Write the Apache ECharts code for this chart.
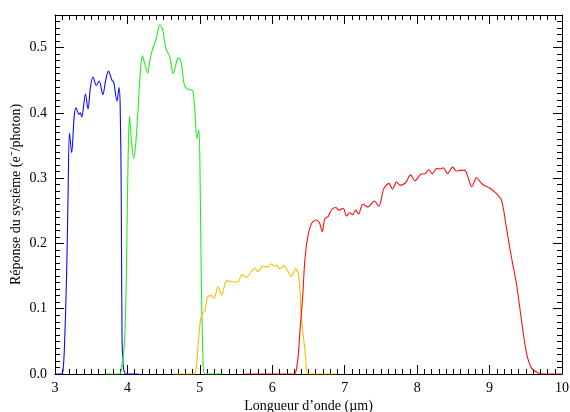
<!DOCTYPE html>
<html>
<head>
<meta charset="utf-8">
<script src="https://cdn.jsdelivr.net/npm/echarts@6/dist/echarts.min.js"></script>
<style>
  html, body { margin: 0; padding: 0; background: #fff; }
  #chart { width: 570px; height: 412px; }
</style>
</head>
<body>
<div id="chart"></div>
<script>
// Spectral response of the four bands: wavelength (µm) and response (e-/photon)
const bande1Lambda = [3.00, 3.09, 3.11, 3.13, 3.16, 3.18, 3.20, 3.23, 3.265, 3.29, 3.33, 3.35, 3.37, 3.42, 3.456, 3.49, 3.525, 3.57, 3.61, 3.66, 3.70, 3.737, 3.787, 3.81, 3.856, 3.884, 3.90, 3.915, 3.925, 3.94, 3.96, 3.98, 4.15];
const bande1Rep    = [0, 0, 0.005, 0.04, 0.15, 0.27, 0.369, 0.339, 0.395, 0.408, 0.398, 0.400, 0.394, 0.429, 0.406, 0.440, 0.455, 0.442, 0.449, 0.428, 0.450, 0.464, 0.450, 0.447, 0.418, 0.439, 0.410, 0.27, 0.06, 0.015, 0.002, 0, 0];

const bande2Lambda = [3.70, 3.89, 3.92, 3.96, 3.985, 4.00, 4.015, 4.028, 4.055, 4.087, 4.115, 4.146, 4.18, 4.207, 4.24, 4.28, 4.31, 4.345, 4.391, 4.42, 4.446, 4.483, 4.515, 4.539, 4.585, 4.61, 4.63, 4.66, 4.69, 4.713, 4.746, 4.768, 4.789, 4.837, 4.88, 4.906, 4.93, 4.96, 4.985, 5.00, 5.02, 5.045, 5.07, 5.30];
const bande2Rep    = [0, 0, 0.01, 0.05, 0.15, 0.267, 0.36, 0.395, 0.358, 0.330, 0.353, 0.404, 0.465, 0.488, 0.475, 0.461, 0.480, 0.497, 0.511, 0.525, 0.535, 0.529, 0.508, 0.496, 0.486, 0.470, 0.460, 0.470, 0.483, 0.484, 0.475, 0.455, 0.442, 0.436, 0.435, 0.433, 0.404, 0.361, 0.374, 0.328, 0.144, 0.017, 0, 0];

const bande3Lambda = [4.63, 4.92, 4.95, 4.975, 5.008, 5.036, 5.067, 5.09, 5.113, 5.16, 5.196, 5.25, 5.30, 5.37, 5.42, 5.46, 5.53, 5.58, 5.64, 5.71, 5.76, 5.80, 5.87, 5.94, 5.99, 6.02, 6.06, 6.10, 6.16, 6.20, 6.265, 6.32, 6.36, 6.38, 6.40, 6.45, 6.47, 6.49, 6.89];
const bande3Rep    = [0, 0, 0.01, 0.042, 0.083, 0.093, 0.096, 0.110, 0.119, 0.120, 0.116, 0.134, 0.121, 0.143, 0.142, 0.141, 0.142, 0.152, 0.148, 0.157, 0.162, 0.157, 0.165, 0.164, 0.169, 0.165, 0.167, 0.161, 0.166, 0.160, 0.149, 0.161, 0.154, 0.130, 0.088, 0.037, 0.012, 0, 0];

const bande4Lambda = [5.62, 6.30, 6.33, 6.36, 6.38, 6.42, 6.45, 6.49, 6.54, 6.60, 6.65, 6.69, 6.725, 6.77, 6.82, 6.88, 6.92, 6.98, 7.025, 7.07, 7.11, 7.15, 7.19, 7.25, 7.32, 7.41, 7.47, 7.54, 7.61, 7.66, 7.715, 7.77, 7.84, 7.91, 7.97, 8.05, 8.11, 8.16, 8.21, 8.27, 8.32, 8.36, 8.42, 8.49, 8.54, 8.60, 8.66, 8.70, 8.755, 8.82, 8.85, 8.91, 9.00, 9.09, 9.165, 9.23, 9.30, 9.37, 9.44, 9.51, 9.58, 9.67, 9.74, 10.0];
const bande4Rep    = [0, 0, 0.005, 0.03, 0.063, 0.119, 0.175, 0.210, 0.230, 0.236, 0.232, 0.218, 0.238, 0.241, 0.252, 0.255, 0.251, 0.254, 0.242, 0.247, 0.244, 0.251, 0.245, 0.260, 0.256, 0.265, 0.257, 0.284, 0.292, 0.283, 0.294, 0.289, 0.293, 0.305, 0.296, 0.306, 0.307, 0.313, 0.307, 0.315, 0.314, 0.316, 0.307, 0.317, 0.311, 0.312, 0.312, 0.302, 0.287, 0.301, 0.297, 0.290, 0.285, 0.277, 0.266, 0.226, 0.180, 0.139, 0.083, 0.032, 0.009, 0.0015, 0, 0];

const couleurs = ['#0a0aff', '#22ee22', '#ffbb00', '#ff1010'];

function paires(xs, ys) {
  return xs.map((x, i) => [x, ys[i]]);
}

const bandes = [
  paires(bande1Lambda, bande1Rep),
  paires(bande2Lambda, bande2Rep),
  paires(bande3Lambda, bande3Rep),
  paires(bande4Lambda, bande4Rep)
];

const police = 'Liberation Serif';
const noir = '#000';

function axeX(pos, labels) {
  return {
    type: 'value', position: pos, min: 3, max: 10, interval: 1,
    name: labels ? 'Longueur d\u2019onde (\u00b5m)' : '',
    nameLocation: 'middle', nameGap: 25, nameMoveOverlap: false,
    nameTextStyle: { fontFamily: police, fontSize: 14, color: noir },
    axisLine: { show: true, onZero: false, lineStyle: { color: noir, width: 1 } },
    axisTick: { show: true, inside: true, length: 9, lineStyle: { color: noir } },
    minorTick: { show: true, splitNumber: 10, length: 5, lineStyle: { color: noir } },
    splitLine: { show: false },
    minorSplitLine: { show: false },
    axisLabel: { show: labels, margin: 7, fontFamily: police, fontSize: 14, color: noir }
  };
}

function axeY(pos, majeur, labels) {
  return {
    type: 'value', position: pos, min: 0, max: 0.55,
    interval: majeur ? 0.1 : 0.01,
    name: labels ? 'R\u00e9ponse du syst\u00e8me (e\u207b/photon)' : '',
    nameLocation: 'middle', nameGap: 32, nameMoveOverlap: false,
    nameTextStyle: { fontFamily: police, fontSize: 14, color: noir },
    axisLine: { show: majeur, onZero: false, lineStyle: { color: noir, width: 1 } },
    axisTick: { show: true, inside: true, length: majeur ? 9 : 5, lineStyle: { color: noir } },
    splitLine: { show: false },
    axisLabel: {
      show: labels, margin: 8, fontFamily: police, fontSize: 14, color: noir,
      showMaxLabel: false,
      formatter: v => v.toFixed(1)
    }
  };
}

const chart = echarts.init(document.getElementById('chart'), null, { renderer: 'canvas' });
chart.setOption({
  animation: false,
  backgroundColor: '#fff',
  grid: { left: 55, right: 8, top: 15, bottom: 38, containLabel: false, outerBoundsMode: 'none' },
  xAxis: [axeX('bottom', true), axeX('top', false)],
  yAxis: [axeY('left', true, true), axeY('left', false, false), axeY('right', true, false), axeY('right', false, false)],
  series: bandes.map((d, i) => ({
    type: 'line',
    data: d,
    xAxisIndex: 0,
    yAxisIndex: 0,
    showSymbol: false,
    symbol: 'none',
    smooth: 0.3,
    clip: true,
    lineStyle: { color: couleurs[i], width: 1.1 },
    emphasis: { disabled: true },
    z: 3
  }))
});
</script>
</body>
</html>
